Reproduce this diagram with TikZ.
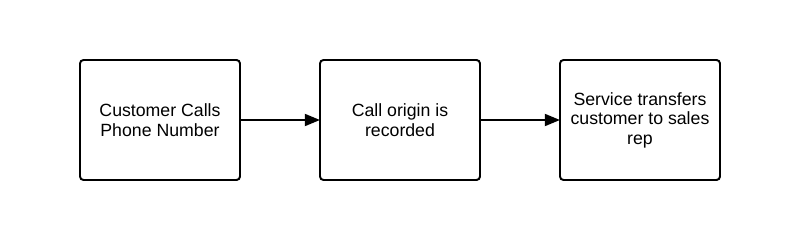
\documentclass[tikz,border=0pt]{standalone}
\usepackage{fontspec}
\setmainfont{Liberation Sans}
\usepackage{tikz}
\usetikzlibrary{arrows.meta, positioning}
\tikzset{
	stepbox/.style={draw=black, line width=1.4pt, rounded corners=2.5pt, outer sep=0pt, minimum width=4cm, minimum height=3cm, align=center, font=\fontsize{12.6}{13.9}\selectfont},
	flowarrow/.style={line width=1.4pt, -{Triangle[length=0.38cm, width=0.3cm]}}
}

\begin{document}
\begin{tikzpicture}[node distance=2cm]
	\useasboundingbox (0,0) rectangle (20,6);
	\node[stepbox] (calls) at (4,3) {Customer Calls\\Phone Number};
	\node[stepbox, right=of calls] (origin) {Call origin is\\recorded};
	\node[stepbox, right=of origin] (transfer) {Service transfers\\customer to sales\\rep};
	\draw[flowarrow] (calls) -- (origin);
	\draw[flowarrow] (origin) -- (transfer);
\end{tikzpicture}
\end{document}
